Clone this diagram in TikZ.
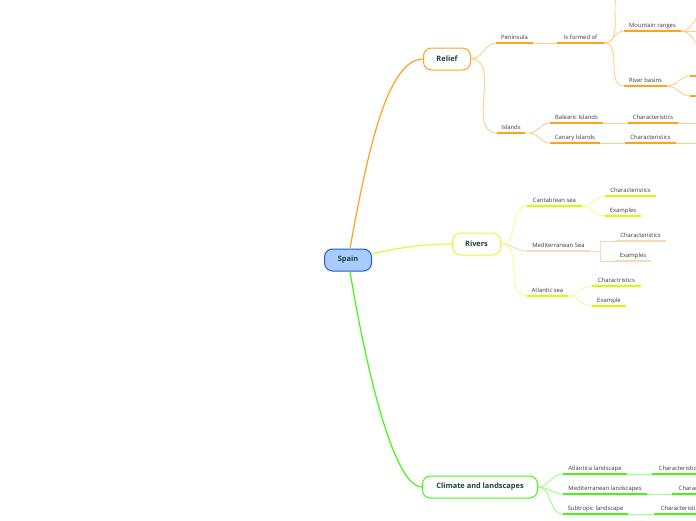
\documentclass[tikz,border=0pt]{standalone}
\usepackage{fontspec}
\setmainfont{Open Sans}
\usetikzlibrary{positioning}
\definecolor{orM}{HTML}{FFA31F}
\definecolor{orL}{HTML}{FFCF8A}
\definecolor{ylM}{HTML}{D2FF00}
\definecolor{ylB}{HTML}{DFFA3A}
\definecolor{ylL}{HTML}{EEFF99}
\definecolor{tanL}{HTML}{F4DAB5}
\definecolor{grM}{HTML}{44F811}
\definecolor{grL}{HTML}{9BFF88}
\definecolor{spfill}{HTML}{A9CBFF}
\definecolor{spline}{HTML}{1B5FD4}
\definecolor{mtxt}{HTML}{17443A}
\definecolor{ltxt}{HTML}{3A3A3A}
\begin{document}
\begin{tikzpicture}[x=1pt, y=-1pt,
  topic/.style={draw=#1, fill=white, rounded corners=8pt, line width=1pt, minimum height=22pt,
    inner sep=0pt, font=\fontsize{7.4}{9}\selectfont\bfseries, text=mtxt},
  leaf/.style={anchor=south, inner xsep=0pt, inner ysep=2.5pt, text height=4.5pt, text depth=1.3pt,
    font=\fontsize{5.9}{6}\selectfont, text=ltxt,
    append after command={(\tikzlastnode.south west) edge[draw=#1, line width=2pt] (\tikzlastnode.south east)}},
  link/.style={draw=#1, line width=0.9pt}
]
\fill[white] (0,0) rectangle (696,520);
\useasboundingbox (0,0) rectangle (696,520);
\clip (0,0) rectangle (696,520);

% main topics
\node[topic=spline, fill=spfill, minimum width=47pt] (spain) at (348,260) {Spain};
\node[topic=orM, minimum width=47pt] (relief) at (447,59) {Relief};
\node[topic=ylB, minimum width=48pt] (rivers) at (476.5,244) {Rivers};
\node[topic=grM, minimum width=115pt] (climate) at (480,487) {Climate and landscapes};

\draw[link=orM, line width=1.2pt] ([xshift=2pt]spain.north) .. controls +(18,-100) and +(-35,0) .. (relief.west);
\draw[link=ylB, line width=1.2pt] ([yshift=6pt]spain.east) .. controls +(25,-6) and +(-30,0) .. (rivers.west);
\draw[link=grM, line width=1.2pt] ([xshift=2pt]spain.south) .. controls +(18,108) and +(-27,0) .. (climate.west);

% relief
\node[leaf=orM, minimum width=36pt] (pen) at (514.5,43) {Peninsula};
\node[leaf=orM, minimum width=47pt] (formed) at (580.5,43) {Is formed of};
\node[leaf=orM, minimum width=57pt] (mtn) at (652.5,31) {Mountain ranges};
\node[leaf=orM, minimum width=43pt] (rbas) at (645.5,86) {River basins};
\node[leaf=orM, minimum width=28pt] (isl) at (511,133) {Islands};
\node[leaf=orM, minimum width=53pt] (bal) at (576.5,123) {Balearic Islands};
\node[leaf=orM, minimum width=50pt] (can) at (575,143) {Canary Islands};
\node[leaf=orM, minimum width=50pt] (balchar) at (653,123) {Characteristics};
\node[leaf=orM, minimum width=51pt] (canchar) at (650.5,143) {Characteristics};
\coordinate (up) at (626,-12);
\coordinate (mtA) at (708,11);
\coordinate (mtB) at (708,31);
\coordinate (mtC) at (708,51);
\coordinate (rbA) at (690,76);
\coordinate (rbB) at (690,96);
\coordinate (balR) at (708,123);
\coordinate (canR) at (708,143);

\draw[link=orL] (relief.east) to[out=0,in=180] (pen.south west);
\draw[link=orL] (relief.east) to[out=0,in=180] (isl.south west);
\draw[link=orL] (pen.south east) -- (formed.south west);
\draw[link=orL] (formed.south east) to[out=0,in=180] (up);
\draw[link=orL] (formed.south east) to[out=0,in=180] (mtn.south west);
\draw[link=orL] (formed.south east) to[out=0,in=180] (rbas.south west);
\draw[link=orL] (mtn.south east) to[out=0,in=180] (mtA);
\draw[link=orL] (mtn.south east) -- (mtB);
\draw[link=orL] (mtn.south east) to[out=0,in=180] (mtC);
\draw[link=orL] (rbas.south east) to[out=0,in=180] (rbA);
\draw[link=orL] (rbas.south east) to[out=0,in=180] (rbB);
\draw[orM, line width=2pt] (rbA) -- ++(20,0);
\draw[orM, line width=2pt] (rbB) -- ++(20,0);
\draw[link=orL] ([xshift=4pt]isl.south east) to[out=0,in=180] (bal.south west);
\draw[link=orL] (isl.south east) -- ++(4,0) to[out=0,in=180] (can.south west);
\draw[link=orL] (bal.south east) -- (balchar.south west);
\draw[link=orL] (can.south east) -- (canchar.south west);
\draw[link=orL] (balchar.south east) -- (balR);
\draw[link=orL] (canchar.south east) -- (canR);

% rivers
\node[leaf=ylM, minimum width=55pt] (cant) at (554.5,206) {Cantabrean sea};
\node[leaf=tanL, minimum width=63pt] (med) at (558.5,251) {Mediterranean Sea};
\node[leaf=ylM, minimum width=41pt] (atl) at (547.5,296) {Atlantic sea};
\node[leaf=ylM, minimum width=51pt] (cantchar) at (630.5,196) {Characteristics};
\node[leaf=ylM, minimum width=36pt] (cantex) at (623,216) {Examples};
\node[leaf=tanL, minimum width=51pt] (medchar) at (640.5,241) {Characteristics};
\node[leaf=tanL, minimum width=36pt] (medex) at (633,261) {Examples};
\node[leaf=ylM, minimum width=49pt] (atlchar) at (616.5,286) {Charactristics};
\node[leaf=ylM, minimum width=34pt] (atlex) at (609,306) {Example};

\draw[link=ylL] (rivers.east) to[out=0,in=180] (cant.south west);
\draw[link=tanL] (rivers.east) to[out=0,in=180] (med.south west);
\draw[link=ylL] (rivers.east) to[out=0,in=180] (atl.south west);
\draw[link=ylL] (cant.south east) to[out=0,in=180] (cantchar.south west);
\draw[link=ylL] (cant.south east) to[out=0,in=180] (cantex.south west);
\draw[link=tanL] (med.south east) -- ++(10,0) |- (medchar.south west);
\draw[link=tanL] (med.south east) -- ++(10,0) |- (medex.south west);
\draw[link=ylL] (atl.south east) to[out=0,in=180] (atlchar.south west);
\draw[link=ylL] (atl.south east) to[out=0,in=180] (atlex.south west);

% climate and landscapes
\node[leaf=grM, minimum width=64pt] (atlan) at (595,474) {Atlántica landscape};
\node[leaf=grM, minimum width=84pt] (medl) at (605,494) {Mediterranean landscapes};
\node[leaf=grM, minimum width=65pt] (subt) at (595.5,514) {Subtropic landscape};
\node[leaf=grM, minimum width=54pt] (atlanchar) at (679,474) {Characteristics};
\node[leaf=grM, minimum width=54pt] (medlchar) at (699,494) {Characteristics};
\node[leaf=grM, minimum width=54pt] (subtchar) at (681,514) {Characteristics};

\draw[link=grL] (climate.east) to[out=0,in=180] (atlan.south west);
\draw[link=grL] (climate.east) to[out=0,in=180] (medl.south west);
\draw[link=grL] (climate.east) to[out=0,in=180] (subt.south west);
\draw[link=grL] (atlan.south east) -- (atlanchar.south west);
\draw[link=grL] (medl.south east) -- (medlchar.south west);
\draw[link=grL] (subt.south east) -- (subtchar.south west);
\end{tikzpicture}
\end{document}
